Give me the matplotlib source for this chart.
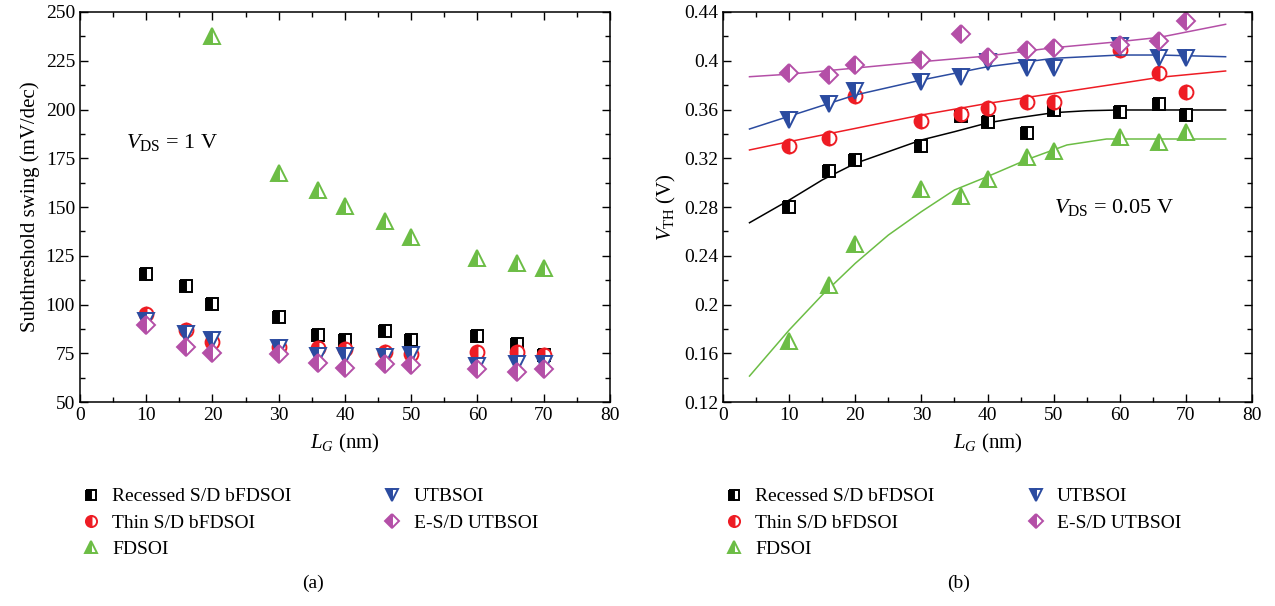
import numpy as np
import matplotlib
matplotlib.use('Agg')
import matplotlib.pyplot as plt
from matplotlib.ticker import MultipleLocator

plt.rcParams['font.family'] = ['Liberation Serif', 'DejaVu Serif']
plt.rcParams['mathtext.fontset'] = 'custom'
plt.rcParams['mathtext.rm'] = 'Liberation Serif'
plt.rcParams['mathtext.it'] = 'Liberation Serif:italic'
plt.rcParams['font.size'] = 14

# ---- data (a): subthreshold swing, VDS = 1 V
lg = [10, 16, 20, 30, 36, 40, 46, 50, 60, 66, 70]
ss_recessed = [115.6, 109.5, 100.3, 93.6, 84.4, 81.8, 86.4, 81.8, 84.0, 79.7, 74.0]
ss_thin = [95.0, 87.0, 80.8, 78.0, 77.7, 77.0, 75.6, 74.6, 75.6, 75.6, 74.0]
ss_utb = [91.5, 85.0, 81.8, 77.7, 73.6, 73.6, 73.0, 74.0, 68.5, 69.5, 69.5]
ss_esd = [89.5, 78.0, 75.0, 74.6, 70.0, 67.5, 69.5, 69.0, 67.0, 65.4, 67.0]
lg_fd = [20, 30, 36, 40, 46, 50, 60, 66, 70]
ss_fd = [237.7, 167.4, 158.7, 150.5, 142.8, 134.6, 124.0, 121.3, 118.7]

# ---- data (b): threshold voltage, VDS = 0.05 V
vth_recessed = [0.280, 0.3095, 0.3186, 0.330, 0.3547, 0.3497, 0.3407, 0.3596, 0.358, 0.3645, 0.3555]
vth_thin = [0.330, 0.3366, 0.371, 0.3506, 0.356, 0.361, 0.366, 0.366, 0.409, 0.390, 0.374]
vth_utb = [0.3514, 0.3645, 0.3752, 0.3826, 0.3867, 0.399, 0.394, 0.394, 0.412, 0.402, 0.402]
vth_esd = [0.390, 0.388, 0.3965, 0.4006, 0.422, 0.403, 0.409, 0.4105, 0.413, 0.416, 0.4326]
vth_fd = [0.170, 0.216, 0.2496, 0.2948, 0.289, 0.303, 0.321, 0.326, 0.3375, 0.333, 0.3415]

# fitted trend lines
fit_x = [4, 10, 20, 30, 40, 50, 60, 66, 76]
fit_thin = [0.3268, 0.3336, 0.3445, 0.3555, 0.3650, 0.3732, 0.3814, 0.3864, 0.3916]
fit_utb = [0.3440, 0.3545, 0.3719, 0.3842, 0.3951, 0.4020, 0.4047, 0.4047, 0.4033]
fit_esd = [0.3869, 0.3890, 0.3940, 0.3992, 0.4039, 0.4107, 0.4157, 0.4192, 0.4299]
fit_x2 = [4, 10, 15, 20, 25, 30, 35, 40, 44, 50, 55, 60, 76]
fit_recessed = [0.2671, 0.2857, 0.3022, 0.3158, 0.3254, 0.3350, 0.3418, 0.3490, 0.3527,
                0.3574, 0.3590, 0.3596, 0.3596]
fit_fd_x = [4, 10, 15, 20, 25, 30, 35, 40, 46, 52, 58, 76]
fit_fd = [0.1413, 0.1791, 0.2078, 0.2338, 0.2570, 0.2762, 0.2940, 0.3050, 0.3190, 0.3309,
          0.3358, 0.3358]

labels = ['Recessed S/D bFDSOI', 'Thin S/D bFDSOI', 'FDSOI', 'UTBSOI', 'E-S/D UTBSOI']
colors = ['#000000', '#ee1c24', '#6cbd45', '#2b4ba0', '#b44fa7']
markers = ['s', 'o', '^', 'v', 'D']
msizes = [9, 10, 11, 11, 9]


def mk(i, scale=1.0):
    return dict(linestyle='none', marker=markers[i], markersize=msizes[i] * scale,
                color=colors[i], markeredgecolor=colors[i], fillstyle='left',
                markerfacecoloralt='white', markeredgewidth=1.4)


def style(ax):
    ax.tick_params(which='both', direction='in', top=True, right=True, labelsize=14)
    ax.tick_params(which='major', length=6, width=1)
    ax.tick_params(which='minor', length=3.5, width=1)
    ax.xaxis.set_major_locator(MultipleLocator(10))
    ax.xaxis.set_minor_locator(MultipleLocator(5))
    for s in ax.spines.values():
        s.set_linewidth(1.1)
    ax.set_xlim(0, 80)
    ax.set_xlabel('$L_G$ (nm)', fontsize=15, labelpad=6)


fig = plt.figure(figsize=(12.75, 6.06), dpi=100)
ax1 = fig.add_axes([0.0627, 0.3366, 0.4157, 0.6436])
ax2 = fig.add_axes([0.5671, 0.3366, 0.4149, 0.6436])

# (a)
data_a = [(lg, ss_recessed), (lg, ss_thin), (lg_fd, ss_fd), (lg, ss_utb), (lg, ss_esd)]
for i in [0, 1, 3, 4, 2]:
    ax1.plot(data_a[i][0], data_a[i][1], **mk(i))
style(ax1)
ax1.set_ylim(50, 250)
ax1.yaxis.set_major_locator(MultipleLocator(25))
ax1.yaxis.set_minor_locator(MultipleLocator(12.5))
ax1.set_ylabel('Subthreshold swing (mV/dec)', fontsize=15)
ax1.text(7.0, 183, '$V_{\\rm DS}$ = 1 V', fontsize=16, va='center')

# (b)
data_b = [vth_recessed, vth_thin, vth_fd, vth_utb, vth_esd]
fits = [(fit_x2, fit_recessed), (fit_x, fit_thin), (fit_fd_x, fit_fd), (fit_x, fit_utb), (fit_x, fit_esd)]
for i in [0, 1, 3, 4, 2]:
    ax2.plot(fits[i][0], fits[i][1], color=colors[i], lw=1.1)
    ax2.plot(lg, data_b[i], **mk(i))
style(ax2)
ax2.set_ylim(0.12, 0.44)
ax2.yaxis.set_minor_locator(MultipleLocator(0.02))
ax2.set_yticks([0.12, 0.16, 0.2, 0.24, 0.28, 0.32, 0.36, 0.4, 0.44])
ax2.set_yticklabels(['0.12', '0.16', '0.2', '0.24', '0.28', '0.32', '0.36', '0.4', '0.44'])
ax2.set_ylabel('$V_{\\rm TH}$ (V)', fontsize=15)
ax2.text(50, 0.28, '$V_{\\rm DS}$ = 0.05 V', fontsize=16, va='center')

# legends below each panel
for ax in (ax1, ax2):
    handles = [plt.Line2D([], [], **mk(i, 0.8)) for i in range(5)]
    ax.legend(handles, labels, loc='upper left', bbox_to_anchor=(-0.035, -0.175),
              ncol=2, frameon=False, fontsize=14, handletextpad=0.5,
              columnspacing=4.6, labelspacing=0.45, handlelength=1.2)

fig.text(0.2455, 0.03, '(a)', ha='center', fontsize=14)
fig.text(0.7515, 0.03, '(b)', ha='center', fontsize=14)

fig.savefig('out.png', dpi=100)
